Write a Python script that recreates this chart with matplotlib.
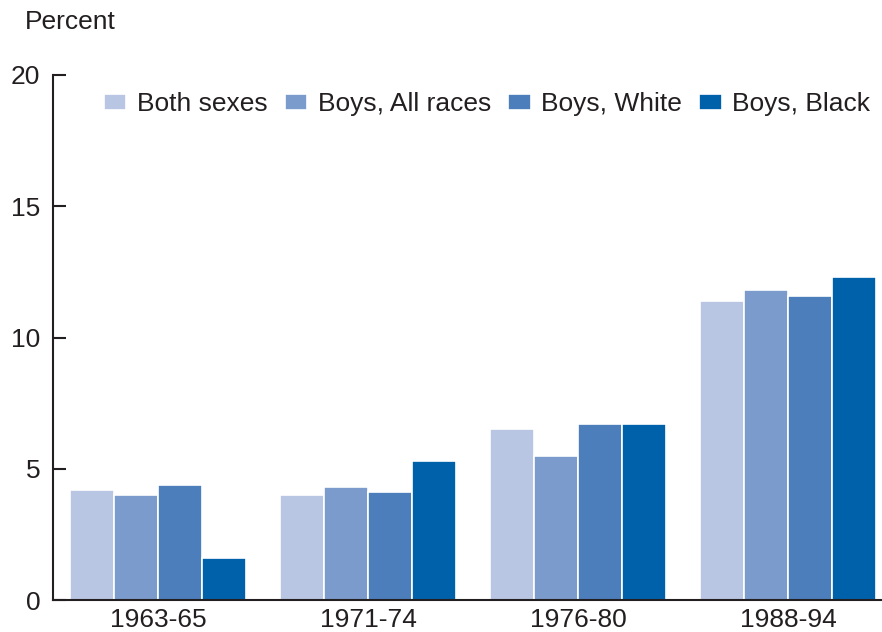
import numpy as np
import matplotlib.pyplot as plt

plt.rcParams['font.family'] = ['Liberation Sans', 'DejaVu Sans']

# Data
periods = ['1963-65', '1971-74', '1976-80', '1988-94']
both_sexes = [4.2, 4.0, 6.5, 11.4]
boys_all = [4.0, 4.3, 5.5, 11.8]
boys_white = [4.4, 4.1, 6.7, 11.6]
boys_black = [1.6, 5.3, 6.7, 12.3]

series = [both_sexes, boys_all, boys_white, boys_black]
names = ['Both sexes', 'Boys, All races', 'Boys, White', 'Boys, Black']
colors = ['#B8C6E3', '#7A9BCB', '#4C7EBC', '#0061AB']
text_col = '#231F20'
fs = 19

fig = plt.figure(figsize=(8.82, 6.32), dpi=100)
ax = fig.add_axes([53/882, 32/632, 1 - 53/882, 525/632])

x = np.arange(len(periods))
w = 0.2095
for i, (vals, name, c) in enumerate(zip(series, names, colors)):
    ax.bar(x + (i - 1.5) * w, vals, width=w, color=c, edgecolor='white',
           linewidth=1.2, label=name)

ax.set_xlim(-0.5, 3.448)
ax.set_ylim(0, 20)
ax.set_yticks([0, 5, 10, 15, 20])
ax.set_xticks(x)
ax.set_xticklabels(periods)

for s in ['top', 'right']:
    ax.spines[s].set_visible(False)
for s in ['left', 'bottom']:
    ax.spines[s].set_linewidth(1.5)
    ax.spines[s].set_color(text_col)

ax.tick_params(axis='y', direction='in', length=9.5, width=1.5, color=text_col,
               labelsize=fs, labelcolor=text_col, pad=9)
ax.tick_params(axis='x', length=0, labelsize=fs, labelcolor=text_col, pad=6)

fig.text(25/882, 1 - 22/632, 'Percent', fontsize=fs, color=text_col,
         va='center', ha='left')

leg = fig.legend(loc='center left', bbox_to_anchor=(104/882, 1 - 104/632),
                 ncol=4, frameon=False, fontsize=fs, handlelength=0.85,
                 handleheight=0.55, handletextpad=0.4, columnspacing=0.65,
                 borderaxespad=0, borderpad=0)
for t in leg.get_texts():
    t.set_color(text_col)

fig.savefig('out.png', dpi=100)
